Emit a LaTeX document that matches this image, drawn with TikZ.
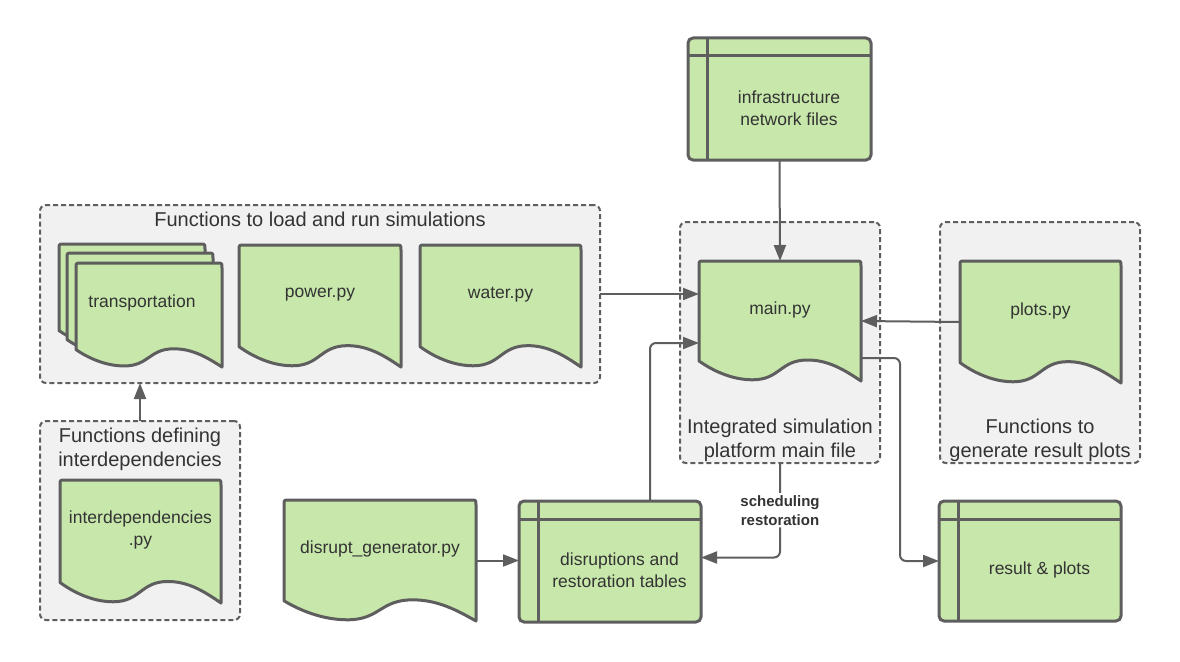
\documentclass[tikz,border=0pt]{standalone}
\usepackage{fontspec}
\setmainfont{Liberation Sans}
\usetikzlibrary{arrows.meta}
\definecolor{docgreen}{HTML}{C7E7AB}
\definecolor{linegray}{HTML}{5E5E5E}
\definecolor{grpfill}{HTML}{F1F1F1}
\definecolor{txtgray}{HTML}{333333}
\tikzset{
  docline/.style={draw=linegray, line width=3pt, line join=round},
  docfill/.style={docline, fill=docgreen},
  shapebox/.style={rectangle, draw=none, inner sep=0pt, outer sep=0pt},
  tabnode/.style={rectangle, docfill, rounded corners=5pt, inner sep=0pt, outer sep=0pt},
  nodetext/.style={text=txtgray, align=center, inner sep=0pt, font=\fontsize{17.5}{22}\selectfont},
  grp/.style={rectangle, draw=linegray, fill=grpfill, line width=2pt, dash pattern=on 5pt off 3pt, rounded corners=6pt, inner sep=0pt, outer sep=0pt},
  grptext/.style={text=txtgray, align=center, inner sep=0pt, font=\fontsize{20}{24}\selectfont},
  arr/.style={draw=linegray, line width=2pt, rounded corners=6pt, -{Triangle[length=16pt,width=12pt]}},
  lbl/.style={text=txtgray, align=center, fill=white, inner sep=2pt, font=\fontsize{15}{19}\selectfont\bfseries},
}
% name, x, y (top), w, h, text
\newcommand{\docshape}[6]{%
  \draw[docfill] ({#2},{#3+0.833*#5}) -- ({#2},{#3+5}) .. controls ({#2},{#3}) .. ({#2+5},{#3})
    -- ({#2+#4-5},{#3}) .. controls ({#2+#4},{#3}) .. ({#2+#4},{#3+5})
    -- ({#2+#4},{#3+#5})
    .. controls ({#2+0.9*#4},{#3+0.91*#5}) and ({#2+0.8*#4},{#3+0.825*#5}) .. ({#2+0.67*#4},{#3+0.825*#5})
    .. controls ({#2+0.5*#4},{#3+0.825*#5}) and ({#2+0.5*#4},{#3+0.99*#5}) .. ({#2+0.33*#4},{#3+0.99*#5})
    .. controls ({#2+0.2*#4},{#3+0.99*#5}) and ({#2+0.08*#4},{#3+0.91*#5}) .. ({#2},{#3+0.833*#5}) -- cycle;
  \node[shapebox, minimum width=#4pt, minimum height=#5pt] (#1) at ({#2+#4/2},{#3+#5/2}) {};
  \node[nodetext] (#1-t) at ({#2+#4/2},{#3+0.4*#5+1}) {#6};
}
% name, x, y (top), w, h, text
\newcommand{\tabbedbox}[6]{%
  \node[tabnode, minimum width=#4pt, minimum height=#5pt] (#1) at ({#2+#4/2},{#3+#5/2}) {};
  \draw[docline] ([xshift=19pt]#1.north west) -- ([xshift=19pt]#1.south west);
  \draw[docline] ([yshift=-18pt]#1.north west) -- ([yshift=-18pt]#1.north east);
  \node[nodetext] (#1-t) at ({#2+(#4+19)/2},{#3+(#5+18)/2}) {#6};
}
\begin{document}
\begin{tikzpicture}[x=1pt, y=-1pt]
\useasboundingbox (0,0) rectangle (1180,661);
\fill[white] (0,0) rectangle (1180,661);

% groups
\node[grp, minimum width=560pt, minimum height=178pt] (g1) at (320,294) {};
\node[grptext] (g1-t) at (320,219) {Functions to load and run simulations};
\node[grp, minimum width=200pt, minimum height=241pt] (g2) at (780,342.5) {};
\node[grptext] (g2-t) at (780,440) {Integrated simulation\\platform main file};
\node[grp, minimum width=200pt, minimum height=199pt] (g3) at (140,520.5) {};
\node[grptext] (g3-t) at (140,449) {Functions defining\\interdependencies};
\node[grp, minimum width=200pt, minimum height=241pt] (g4) at (1040,342.5) {};
\node[grptext] (g4-t) at (1040,440) {Functions to\\generate result plots};

% documents
\docshape{trans3}{59}{244}{146}{104}{}
\docshape{trans2}{67}{253}{146}{104}{}
\docshape{trans1}{76}{263}{146}{104}{}
\node[nodetext] (trans-t) at (142,303) {transportation};
\docshape{power}{239}{245}{162}{122}{power.py}
\docshape{water}{420}{245}{161}{122}{water.py}
\docshape{main}{699}{261}{162}{120}{main.py}
\docshape{plots}{960}{261}{161}{122}{plots.py}
\docshape{interdep}{60}{480}{161}{123}{interdependencies\\.py}
\docshape{dg}{284}{500}{192}{121}{disrupt\_generator.py}

% tabbed boxes
\tabbedbox{infra}{688}{38}{183}{122}{infrastructure\\network files}
\tabbedbox{disr}{519}{501}{182}{121}{disruptions and\\restoration tables}
\tabbedbox{res}{939}{501}{182}{120}{result \& plots}

% connectors
\draw[arr] (infra.south) -- (main.north);
\draw[arr] (g1.east) -- (g1.east -| main.west);
\draw[arr] (plots.west) -- (main.east);
\draw[arr] (g3.north) -- (g3.north |- g1.south);
\draw[arr] ([yshift=-37pt]main.east) -- ++(39,0) |- (res.west);
\draw[arr] ([xshift=40pt]disr.north) |- ([yshift=-22pt]main.west);
\draw[arr] (g2.south) |- node[lbl, pos=0.25] (sched) {scheduling\\restoration} ([yshift=4pt]disr.east);
\draw[arr] (dg.east) -- (dg.east -| disr.west);
\end{tikzpicture}
\end{document}
